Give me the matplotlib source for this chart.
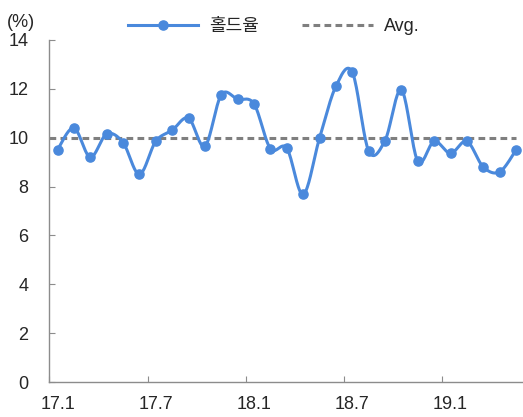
import matplotlib
matplotlib.use("Agg")
import matplotlib.pyplot as plt
import numpy as np
from matplotlib.lines import Line2D

plt.rcParams["font.family"] = ["Liberation Sans", "Noto Sans CJK KR"]

# monthly hold rate, 17.1 ~ 19.5
months = ["17.1", "17.2", "17.3", "17.4", "17.5", "17.6", "17.7", "17.8", "17.9",
          "17.10", "17.11", "17.12", "18.1", "18.2", "18.3", "18.4", "18.5", "18.6",
          "18.7", "18.8", "18.9", "18.10", "18.11", "18.12", "19.1", "19.2", "19.3",
          "19.4", "19.5"]
hold_rate = [9.5, 10.4, 9.2, 10.15, 9.8, 8.5, 9.85, 10.3, 10.8,
             9.65, 11.75, 11.57, 11.38, 9.55, 9.57, 7.68, 9.98, 12.1,
             12.68, 9.46, 9.88, 11.95, 9.04, 9.85, 9.36, 9.85, 8.8,
             8.6, 9.49]
avg_rate = 10.0
tick_labels = ["17.1", "17.7", "18.1", "18.7", "19.1"]

blue = "#4a89dc"
grey = "#7f7f7f"
axis_grey = "#8c8c8c"
text_col = "#262626"
fs = 13


def smooth(x, y, steps=20):
    # Catmull-Rom style curve through the points (like Excel's smoothed line)
    x = np.asarray(x, float)
    y = np.asarray(y, float)
    px = np.concatenate([[x[0]], x, [x[-1]]])
    py = np.concatenate([[y[0]], y, [y[-1]]])
    xs, ys = [], []
    for i in range(1, len(px) - 2):
        p0, p1, p2, p3 = (np.array([px[j], py[j]]) for j in range(i - 1, i + 3))
        c1 = p1 + (p2 - p0) / 6
        c2 = p2 - (p3 - p1) / 6
        t = np.linspace(0, 1, steps, endpoint=(i == len(px) - 3))[:, None]
        pts = ((1 - t) ** 3) * p1 + 3 * ((1 - t) ** 2) * t * c1 + 3 * (1 - t) * t ** 2 * c2 + t ** 3 * p2
        xs.append(pts[:, 0])
        ys.append(pts[:, 1])
    return np.concatenate(xs), np.concatenate(ys)


fig = plt.figure(figsize=(5.23, 4.17), dpi=100)
ax = fig.add_axes([0.0943, 0.0835, 0.908, 0.821])

x = np.arange(len(months))
sx, sy = smooth(x, hold_rate)
ax.plot(sx, sy, color=blue, lw=2.2, solid_capstyle="round", zorder=3)
ax.plot(x, hold_rate, "o", color=blue, ms=6.6, zorder=4)
ax.plot([-0.5, x[-1]], [avg_rate, avg_rate], color=grey, lw=2.2,
        dashes=(2.2, 1.4), zorder=2)

ax.set_xlim(-0.5, len(months) - 0.5)
ax.set_ylim(0, 14)
ax.set_yticks(np.arange(0, 15, 2))

# tick marks on category boundaries, labels on category centres
label_pos = [months.index(m) for m in tick_labels]
ax.set_xticks([p - 0.5 for p in label_pos])
ax.set_xticklabels([])
ax.set_xticks(label_pos, minor=True)
ax.set_xticklabels(tick_labels, minor=True)
ax.tick_params(axis="x", which="minor", length=0, pad=10, labelsize=fs, colors=text_col)
ax.tick_params(axis="x", which="major", direction="in", length=4, color=axis_grey)
ax.tick_params(axis="y", direction="in", length=4, color=axis_grey, labelsize=fs,
               labelcolor=text_col, pad=15)

for s in ["top", "right"]:
    ax.spines[s].set_visible(False)
for s in ["left", "bottom"]:
    ax.spines[s].set_color(axis_grey)
    ax.spines[s].set_linewidth(1.0)

fig.text(0.013, 0.947, "(%)", fontsize=fs, color=text_col, va="center")

handles = [
    Line2D([], [], color=blue, lw=2.2, marker="o", ms=6.6),
    Line2D([], [], color=grey, lw=2.2, dashes=(2.2, 1.4)),
]
leg = fig.legend(handles, ["홀드율", "Avg."], loc="center", bbox_to_anchor=(0.523, 0.936),
                 ncol=2, frameon=False, fontsize=fs, handlelength=3.9, columnspacing=2.4,
                 handletextpad=0.6)
for t in leg.get_texts():
    t.set_color(text_col)

fig.savefig("out.png", dpi=100)
